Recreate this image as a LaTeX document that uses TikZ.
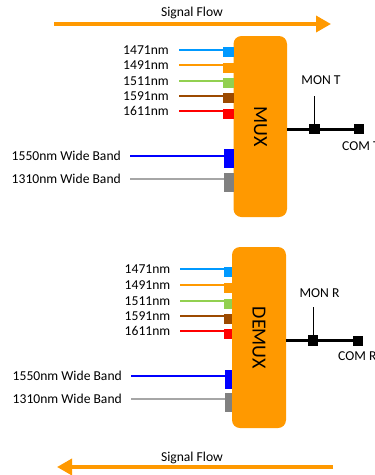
\documentclass[tikz,border=0pt]{standalone}
\usepackage{fontspec}
\setmainfont{Carlito}
\usetikzlibrary{arrows.meta}
\definecolor{orng}{HTML}{FF9900}
\definecolor{cA}{HTML}{0099FF}
\definecolor{cB}{HTML}{FF9900}
\definecolor{cC}{HTML}{92D050}
\definecolor{cD}{HTML}{9C4A00}
\definecolor{cE}{HTML}{FF0000}
\definecolor{cF}{HTML}{0000FF}
\definecolor{cGs}{HTML}{808080}
\definecolor{cGl}{HTML}{A6A6A6}
\tikzset{
  lbl/.style={inner sep=0pt, text height=8.7pt, text depth=0pt, font=\fontsize{13.6}{16}\selectfont},
  boxst/.style={fill=orng, rounded corners=8pt, draw=none},
  boxtxt/.style={inner sep=0pt, text height=12.9pt, text depth=0pt, font=\fontsize{20}{24}\selectfont, rotate=-90},
  port/.style={fill=#1, draw=none, inner sep=0pt, minimum width=10.5pt, minimum height=10pt, anchor=north east},
  wport/.style={fill=#1, draw=none, inner sep=0pt, minimum height=18.5pt, anchor=north east},
  fib/.style={draw=#1, line width=2pt},
  wfib/.style={draw=#1, line width=2.3pt},
  blk/.style={fill=black, draw=none, inner sep=0pt, minimum size=10.5pt},
  flow/.style={draw=orng, line width=3.5pt, -{Triangle[length=15pt,width=16pt]}},
}
\begin{document}
\begin{tikzpicture}[x=1pt,y=-1pt]
\useasboundingbox (0,0) rectangle (375,475);
% ---------- top signal flow ----------
\node[lbl] (sf1) at (192,12) {Signal Flow};
\coordinate (a1s) at (54,24);
\coordinate (a1e) at (331,24);
\draw[flow] (a1s) -- (a1e);
% ---------- MUX ----------
\path[boxst] (233.5,36) rectangle (287,217);
\node[boxtxt] (mux) at (260.5,127) {MUX};
\coordinate (muxE) at (287,129);
\foreach \n/\y/\c/\t in {1/49.7/cA/1471nm, 2/65/cB/1491nm, 3/80.7/cC/1511nm, 4/95.7/cD/1591nm, 5/111/cE/1611nm}{
  \node[lbl, anchor=east] (ml\n) at (169,\y) {\t};
  \node[port=\c] (mp\n) at (234,\y-2.5) {};
  \coordinate (ms\n) at (179,\y);
  \draw[fib=\c] (ms\n) -- (ms\n -| mp\n.west);
}
\node[lbl, anchor=east] (mlw1) at (121,156) {1550nm Wide Band};
\node[wport=cF, minimum width=10pt] (mpw1) at (234,149) {};
\coordinate (msw1) at (130,156);
\draw[wfib=cF] (msw1) -- (msw1 -| mpw1.west);
\node[lbl, anchor=east] (mlw2) at (121,179) {1310nm Wide Band};
\node[wport=cGs, minimum width=10pt] (mpw2) at (234,173) {};
\coordinate (msw2) at (130,179);
\draw[wfib=cGl] (msw2) -- (msw2 -| mpw2.west);
% MON T / COM T
\node[blk] (jT) at (314.5,129) {};
\node[blk, minimum size=10pt] (eT) at (359,129) {};
\draw[line width=3pt] (muxE) -- (eT.center);
\node[blk] at (jT) {};
\node[blk, minimum size=10pt] at (eT) {};
\coordinate (vT) at (314.5,96);
\draw[line width=1pt] (vT) -- (jT.north);
\node[lbl] (monT) at (321,80) {MON T};
\node[lbl, anchor=west] (comT) at (342,146.5) {COM T};
% ---------- DEMUX ----------
\path[boxst] (232,247) rectangle (286,428);
\node[boxtxt] (demux) at (259,338) {DEMUX};
\coordinate (demE) at (286,340.7);
\foreach \n/\y/\c/\t in {1/269.3/cA/1471nm, 2/285/cB/1491nm, 3/301/cC/1511nm, 4/316/cD/1591nm, 5/331/cE/1611nm}{
  \node[lbl, anchor=east] (dl\n) at (170.5,\y) {\t};
  \node[port=\c, minimum width=8pt] (dp\n) at (232,\y-2.5) {};
  \coordinate (ds\n) at (180,\y);
  \draw[fib=\c] (ds\n) -- (ds\n -| dp\n.west);
}
\node[lbl, anchor=east] (dlw1) at (122,376) {1550nm Wide Band};
\node[wport=cF, minimum width=7pt] (dpw1) at (232,370) {};
\coordinate (dsw1) at (131,376);
\draw[wfib=cF] (dsw1) -- (dsw1 -| dpw1.west);
\node[lbl, anchor=east] (dlw2) at (122,399) {1310nm Wide Band};
\node[wport=cGs, minimum width=7pt] (dpw2) at (232,393) {};
\coordinate (dsw2) at (131,399);
\draw[wfib=cGl] (dsw2) -- (dsw2 -| dpw2.west);
% MON R / COM R
\node[blk] (jR) at (313,340.7) {};
\node[blk, minimum size=10pt] (eR) at (358,340.7) {};
\draw[line width=3pt] (demE) -- (eR.center);
\node[blk] at (jR) {};
\node[blk, minimum size=10pt] at (eR) {};
\coordinate (vR) at (313,307);
\draw[line width=1pt] (vR) -- (jR.north);
\node[lbl] (monR) at (319.5,292.7) {MON R};
\node[lbl, anchor=west] (comR) at (338,356) {COM R};
% ---------- bottom signal flow ----------
\node[lbl] (sf2) at (192,457) {Signal Flow};
\coordinate (a2s) at (333,467);
\coordinate (a2e) at (57,467);
\draw[flow] (a2s) -- (a2e);
\end{tikzpicture}
\end{document}
